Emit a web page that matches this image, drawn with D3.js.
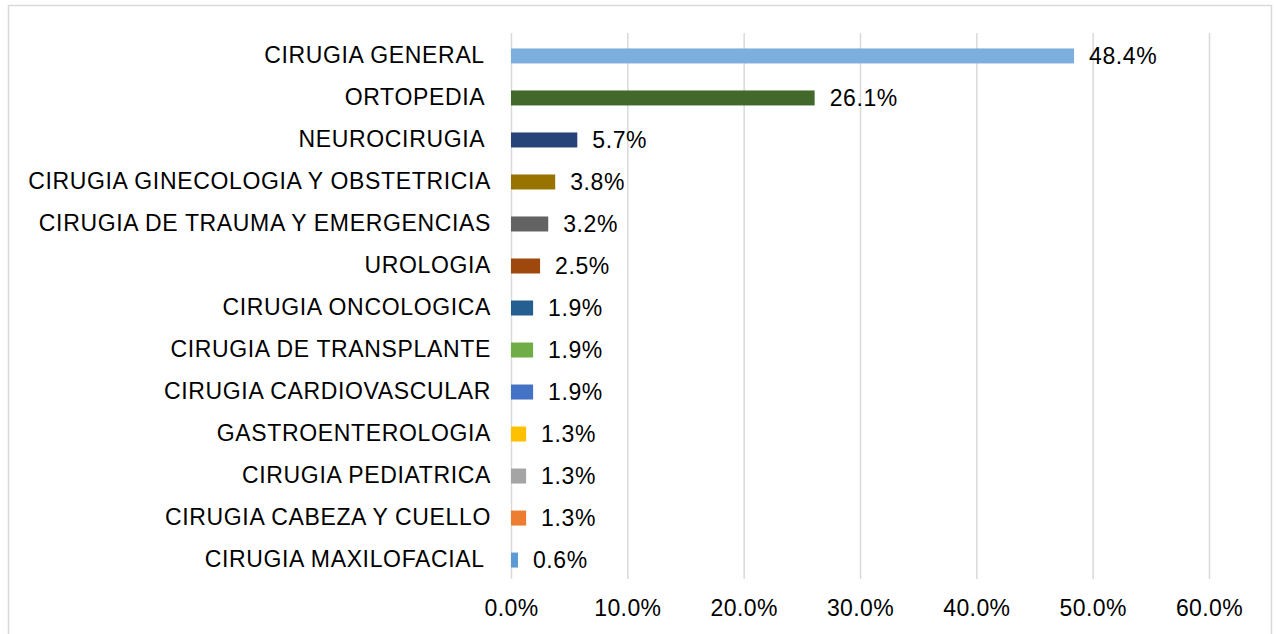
<!DOCTYPE html>
<html>
<head>
<meta charset="utf-8">
<script src="https://cdn.jsdelivr.net/npm/d3@7"></script>
<style>
  body { margin: 0; background: #fff; }
  text { font-family: "Liberation Sans", Arial, sans-serif; fill: #000; }
</style>
</head>
<body>
<div id="chart"></div>
<script>
// categories as they appear in the chart (some had a trailing space)
var categories = [
  "CIRUGIA GENERAL ",
  "ORTOPEDIA ",
  "NEUROCIRUGIA ",
  "CIRUGIA GINECOLOGIA Y OBSTETRICIA",
  "CIRUGIA DE TRAUMA Y EMERGENCIAS",
  "UROLOGIA",
  "CIRUGIA ONCOLOGICA",
  "CIRUGIA DE TRANSPLANTE",
  "CIRUGIA CARDIOVASCULAR",
  "GASTROENTEROLOGIA",
  "CIRUGIA PEDIATRICA",
  "CIRUGIA CABEZA Y CUELLO",
  "CIRUGIA MAXILOFACIAL "
];
var values = [0.484, 0.261, 0.057, 0.038, 0.032, 0.025, 0.019, 0.019, 0.019, 0.013, 0.013, 0.013, 0.006];
var colors = ["#7cafdd", "#43682b", "#264478", "#997300", "#636363", "#9e480e",
              "#255e91", "#70ad47", "#4472c4", "#ffc000", "#a5a5a5", "#ed7d31", "#5b9bd5"];
var ticks = [0, 0.1, 0.2, 0.3, 0.4, 0.5, 0.6];

var W = 1276, H = 634;
var gridTop = 33, gridBottom = 579;

var svg = d3.select("#chart")
	.append("svg")
	.attr("width", W)
	.attr("height", H);

// chart border
svg.append("rect")
	.attr("x", 8.5).attr("y", 5.5)
	.attr("width", 1263).attr("height", 630)
	.attr("fill", "none")
	.attr("stroke", "#d9d9d9")
	.attr("stroke-width", 1.5);

var x = d3.scaleLinear().domain([0, 0.6]).range([511, 1209]);
var y = d3.scaleBand().domain(categories).range([35, 581]).paddingInner(0.643).paddingOuter(0.32);

// gridlines + tick labels
var xAxis = d3.axisBottom(x)
	.tickValues(ticks)
	.tickSize(-(gridBottom - gridTop))
	.tickPadding(21)
	.tickFormat(d3.format(".1%"));

var gx = svg.append("g")
	.attr("transform", "translate(0," + gridBottom + ")")
	.call(xAxis);
gx.select(".domain").remove();
gx.selectAll(".tick line").attr("stroke", "#d9d9d9").attr("stroke-width", 1.5);
gx.selectAll(".tick text")
	.attr("font-size", "23px")
	.style("font-family", "'Liberation Sans', Arial, sans-serif")
	.style("letter-spacing", "0.4px")
	.attr("fill", "#000");

// category labels
var yAxis = d3.axisLeft(y).tickSize(0).tickPadding(20);
var gy = svg.append("g")
	.attr("transform", "translate(511,0)")
	.call(yAxis);
gy.select(".domain").remove();
gy.selectAll(".tick text")
	.attr("font-size", "23px")
	.style("font-family", "'Liberation Sans', Arial, sans-serif")
	.style("white-space", "pre")
	.style("letter-spacing", "0.65px")
	.attr("fill", "#000");

var data = categories.map(function(c, i) { return { name: c, value: values[i], color: colors[i] }; });

// bars
svg.selectAll("rect.bar")
	.data(data)
	.enter()
	.append("rect")
	.attr("class", "bar")
	.attr("x", x(0))
	.attr("y", function(d) { return y(d.name); })
	.attr("width", function(d) { return x(d.value) - x(0); })
	.attr("height", y.bandwidth())
	.attr("fill", function(d) { return d.color; });

// value labels
svg.selectAll("text.val")
	.data(data)
	.enter()
	.append("text")
	.attr("class", "val")
	.attr("x", function(d) { return x(d.value) + 15; })
	.attr("y", function(d) { return y(d.name) + y.bandwidth() / 2; })
	.attr("dy", "0.35em")
	.attr("font-size", "23px")
	.style("letter-spacing", "0.6px")
	.text(function(d) { return d3.format(".1%")(d.value); });
</script>
</body>
</html>
